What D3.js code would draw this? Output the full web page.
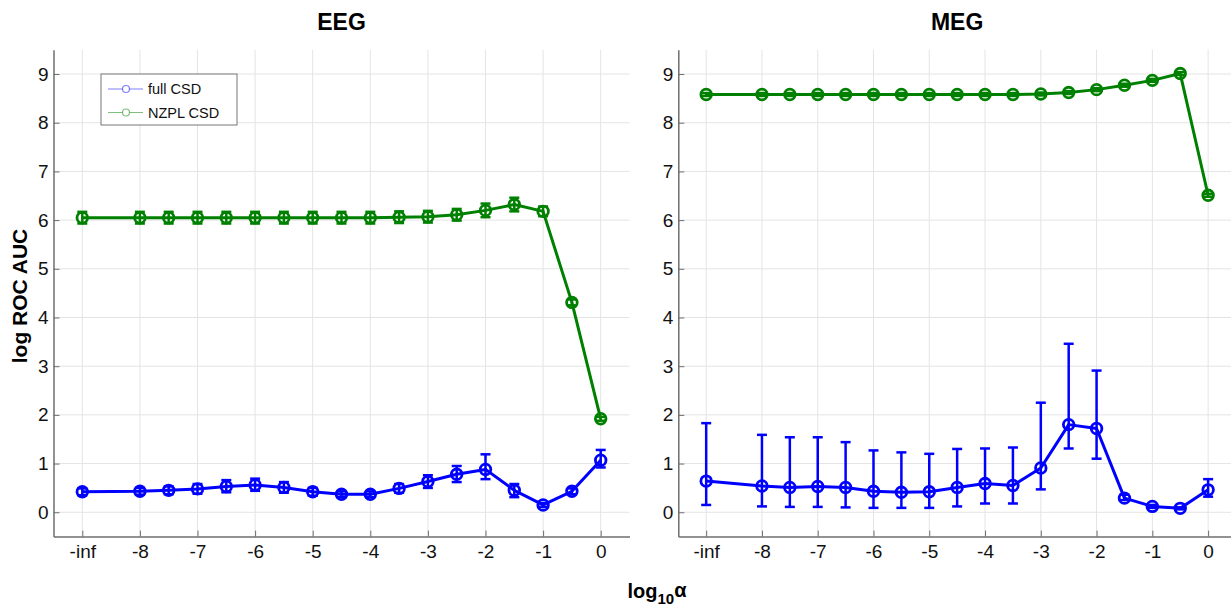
<!DOCTYPE html>
<html><head><meta charset="utf-8">
<script src="https://cdn.jsdelivr.net/npm/d3@7"></script>
<style>body{margin:0;background:#fff}text{font-family:"Liberation Sans",Arial,Helvetica,sans-serif}</style>
</head><body>
<script>
// ---- data ----
const log10alpha = [-Infinity, -8, -7.5, -7, -6.5, -6, -5.5, -5, -4.5, -4, -3.5, -3, -2.5, -2, -1.5, -1, -0.5, 0];
const xTickValues = [-Infinity, -8, -7, -6, -5, -4, -3, -2, -1, 0];
const xTickLabels = ['-inf', '-8', '-7', '-6', '-5', '-4', '-3', '-2', '-1', '0'];
const yTickValues = [0, 1, 2, 3, 4, 5, 6, 7, 8, 9];
const seriesNames = ['full CSD', 'NZPL CSD'];

// EEG
const eegFull   = [0.42, 0.43, 0.45, 0.48, 0.53, 0.56, 0.51, 0.42, 0.37, 0.37, 0.49, 0.63, 0.78, 0.88, 0.45, 0.15, 0.43, 1.07];
const eegFullLo = [0.35, 0.36, 0.37, 0.38, 0.41, 0.44, 0.40, 0.34, 0.31, 0.31, 0.40, 0.50, 0.62, 0.68, 0.31, 0.11, 0.37, 0.92];
const eegFullHi = [0.49, 0.50, 0.53, 0.58, 0.66, 0.69, 0.62, 0.50, 0.43, 0.43, 0.58, 0.76, 0.95, 1.19, 0.58, 0.19, 0.49, 1.28];
const eegNzpl   = [6.05, 6.05, 6.05, 6.05, 6.05, 6.05, 6.05, 6.05, 6.05, 6.05, 6.06, 6.07, 6.11, 6.20, 6.32, 6.18, 4.31, 1.92];
const eegNzplLo = [5.93, 5.93, 5.93, 5.93, 5.93, 5.93, 5.93, 5.93, 5.93, 5.93, 5.94, 5.95, 5.99, 6.06, 6.18, 6.08, 4.25, 1.88];
const eegNzplHi = [6.17, 6.17, 6.17, 6.17, 6.17, 6.17, 6.17, 6.17, 6.17, 6.17, 6.18, 6.19, 6.23, 6.34, 6.46, 6.28, 4.37, 1.96];
// MEG
const megFull   = [0.64, 0.54, 0.51, 0.53, 0.51, 0.43, 0.41, 0.42, 0.51, 0.59, 0.55, 0.91, 1.80, 1.72, 0.29, 0.12, 0.08, 0.46];
const megFullLo = [0.15, 0.12, 0.11, 0.11, 0.10, 0.09, 0.09, 0.09, 0.12, 0.18, 0.18, 0.47, 1.31, 1.10, 0.25, 0.09, 0.06, 0.32];
const megFullHi = [1.83, 1.59, 1.54, 1.54, 1.44, 1.27, 1.23, 1.20, 1.30, 1.31, 1.33, 2.25, 3.46, 2.91, 0.36, 0.15, 0.10, 0.68];
const megNzpl   = [8.58, 8.58, 8.58, 8.58, 8.58, 8.58, 8.58, 8.58, 8.58, 8.58, 8.58, 8.59, 8.62, 8.68, 8.77, 8.87, 9.01, 6.51];
const megNzplLo = [8.55, 8.55, 8.55, 8.55, 8.55, 8.55, 8.55, 8.55, 8.55, 8.55, 8.55, 8.56, 8.59, 8.65, 8.74, 8.84, 8.98, 6.48];
const megNzplHi = [8.61, 8.61, 8.61, 8.61, 8.61, 8.61, 8.61, 8.61, 8.61, 8.61, 8.61, 8.62, 8.65, 8.71, 8.80, 8.90, 9.04, 6.54];

const colors = ['#0000ff', '#008000'];
const panels = [
  {title: 'EEG', x0: 53.5, x1: 629.5, series: [[eegFull, eegFullLo, eegFullHi], [eegNzpl, eegNzplLo, eegNzplHi]], legend: true},
  {title: 'MEG', x0: 678.3, x1: 1236, series: [[megFull, megFullLo, megFullHi], [megNzpl, megNzplLo, megNzplHi]], legend: false}
];

const W = 1231, H = 611;
const svg = d3.select('body').append('svg').attr('width', W).attr('height', H);
const yTop = 49.7, yBot = 536.6;
const mapX = v => (v === -Infinity ? -9 : v);

panels.forEach(p => {
  const x = d3.scaleLinear().domain([-9.5, 0.5]).range([p.x0, p.x1]);
  const y = d3.scaleLinear().domain([-0.5, 9.5]).range([yBot, yTop]);
  const g = svg.append('g');

  // grid
  g.append('g').selectAll('line').data(xTickValues).join('line')
    .attr('x1', d => x(mapX(d))).attr('x2', d => x(mapX(d)))
    .attr('y1', yTop).attr('y2', yBot).attr('stroke', '#e4e4e4').attr('stroke-width', 1);
  g.append('g').selectAll('line').data(yTickValues).join('line')
    .attr('y1', d => y(d)).attr('y2', d => y(d))
    .attr('x1', p.x0).attr('x2', p.x1).attr('stroke', '#e4e4e4').attr('stroke-width', 1);

  // axes
  const xAxis = d3.axisBottom(x).tickValues(xTickValues.map(mapX))
    .tickFormat((d, i) => xTickLabels[i]).tickSizeInner(-6).tickSizeOuter(0).tickPadding(8);
  const yAxis = d3.axisLeft(y).tickValues(yTickValues)
    .tickFormat(d3.format('d')).tickSizeInner(-6).tickSizeOuter(0).tickPadding(5);
  const gx = g.append('g').attr('transform', `translate(0,${yBot})`).call(xAxis);
  const gy = g.append('g').attr('transform', `translate(${p.x0},0)`).call(yAxis);
  [gx, gy].forEach(a => {
    a.select('.domain').attr('stroke', '#6e6e6e').attr('stroke-width', 1.5);
    a.selectAll('.tick line').attr('stroke', '#6e6e6e');
    a.selectAll('.tick text').attr('font-size', 19).attr('fill', '#111')
      .attr('font-family', '"Liberation Sans",Arial,sans-serif');
  });

  // title
  g.append('text').attr('x', (p.x0 + p.x1) / 2).attr('y', 30)
    .attr('text-anchor', 'middle').attr('font-size', 23).attr('font-weight', 'bold').text(p.title);

  // series
  p.series.forEach((s, si) => {
    const [vals, lo, hi] = s;
    const c = colors[si];
    const sg = g.append('g');
    const eb = sg.append('g').attr('stroke', c).attr('stroke-width', 2.5);
    log10alpha.forEach((a, i) => {
      const cx = x(mapX(a));
      eb.append('line').attr('x1', cx).attr('x2', cx).attr('y1', y(lo[i])).attr('y2', y(hi[i]));
      eb.append('line').attr('x1', cx - 5).attr('x2', cx + 5).attr('y1', y(lo[i])).attr('y2', y(lo[i]));
      eb.append('line').attr('x1', cx - 5).attr('x2', cx + 5).attr('y1', y(hi[i])).attr('y2', y(hi[i]));
    });
    const line = d3.line().x((d, i) => x(mapX(log10alpha[i]))).y(d => y(d));
    sg.append('path').datum(vals).attr('d', line).attr('fill', 'none')
      .attr('stroke', c).attr('stroke-width', 3).attr('stroke-linejoin', 'round');
    sg.selectAll('circle').data(vals).join('circle')
      .attr('cx', (d, i) => x(mapX(log10alpha[i]))).attr('cy', d => y(d)).attr('r', 5.3)
      .attr('fill', 'none').attr('stroke', c).attr('stroke-width', 2.8);
  });

  // legend
  if (p.legend) {
    const lg = g.append('g');
    lg.append('rect').attr('x', 101).attr('y', 74).attr('width', 136).attr('height', 51)
      .attr('fill', '#fff').attr('stroke', '#777').attr('stroke-width', 1);
    seriesNames.forEach((n, i) => {
      const ly = 89 + i * 23.5;
      lg.append('line').attr('x1', 108).attr('x2', 143).attr('y1', ly).attr('y2', ly)
        .attr('stroke', colors[i]).attr('stroke-opacity', 0.5).attr('stroke-width', 1.2);
      lg.append('circle').attr('cx', 126).attr('cy', ly).attr('r', 3.5).attr('fill', '#fff')
        .attr('stroke', colors[i]).attr('stroke-opacity', 0.5).attr('stroke-width', 1.2);
      lg.append('text').attr('x', 148).attr('y', ly + 5).attr('font-size', 14.5).attr('fill', '#111').text(n);
    });
  }
});

// shared labels
svg.append('text').attr('transform', 'translate(27,296) rotate(-90)').attr('text-anchor', 'middle')
  .attr('font-size', 21).attr('font-weight', 'bold').text('log ROC AUC');
const xl = svg.append('text').attr('x', 657).attr('y', 598).attr('text-anchor', 'middle')
  .attr('font-size', 20).attr('font-weight', 'bold');
xl.append('tspan').text('log');
xl.append('tspan').attr('font-size', 15).attr('dy', 6).text('10');
xl.append('tspan').attr('dy', -7).attr('font-size', 20).text('α');
</script>
</body></html>
